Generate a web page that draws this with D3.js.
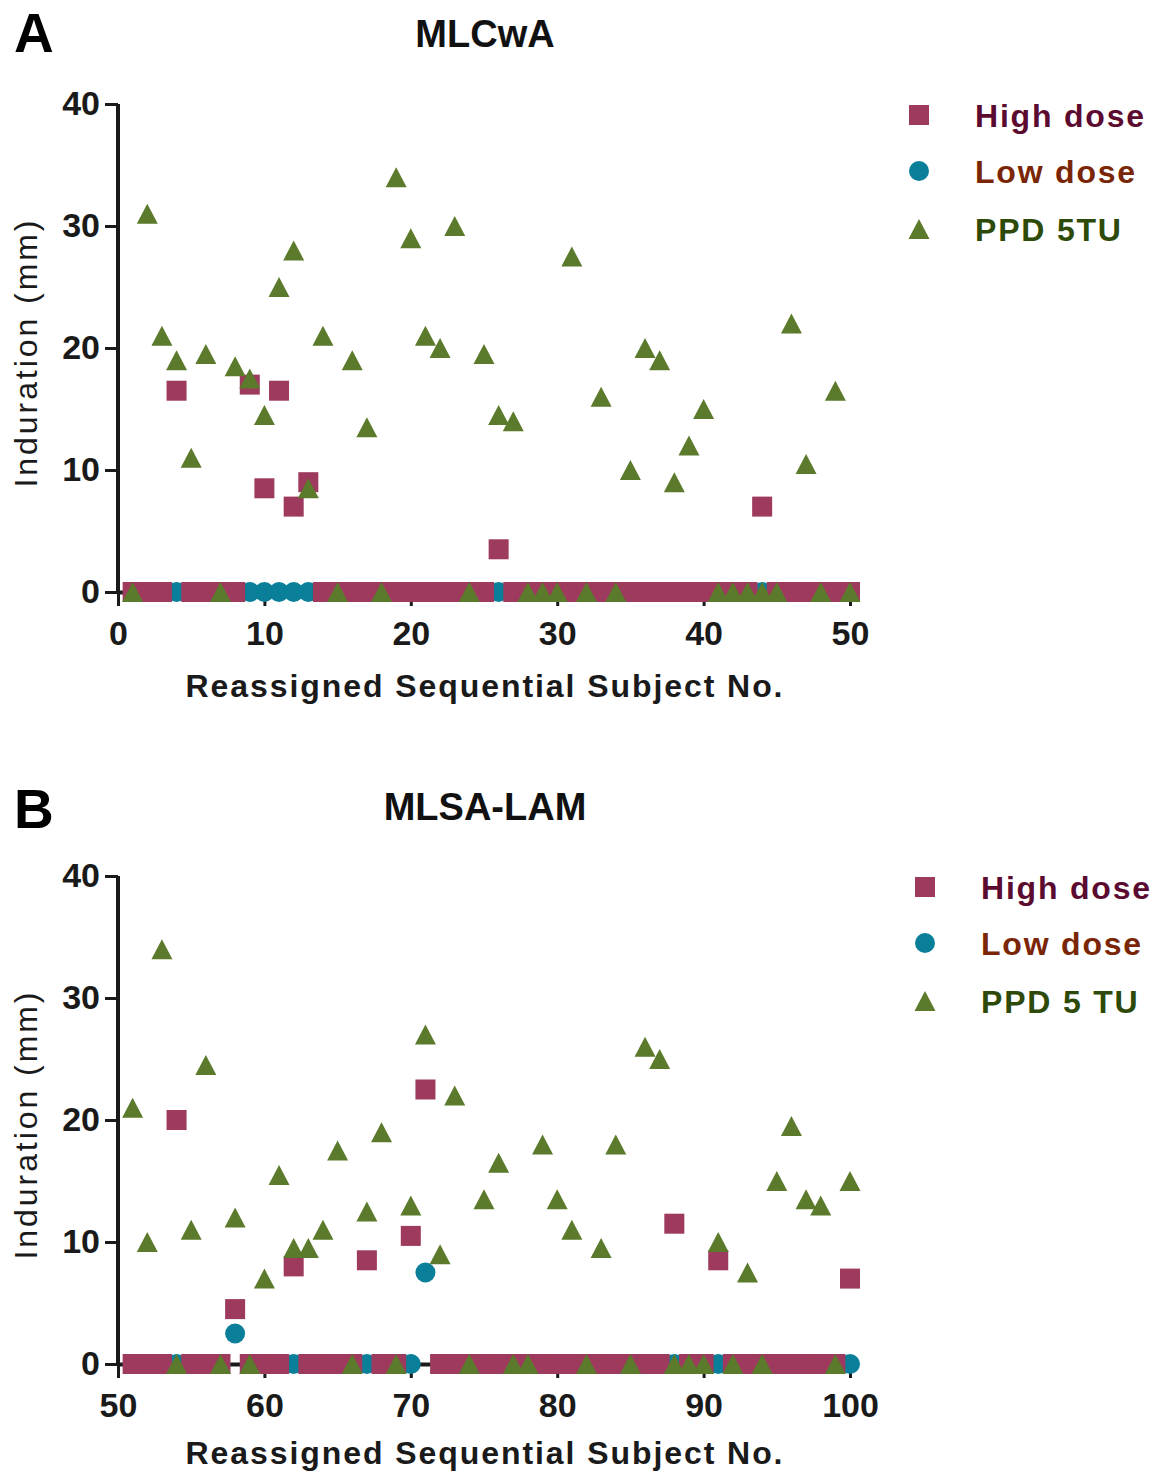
<!DOCTYPE html>
<html>
<head>
<meta charset="utf-8">
<script src="https://cdn.jsdelivr.net/npm/d3@7"></script>
<style>
  html, body { margin: 0; padding: 0; background: #fff; }
  svg { display: block; font-family: "Liberation Sans", Arial, sans-serif; }
</style>
</head>
<body>
<div id="chart"></div>
<script>
// subject numbers and induration (mm)
const subjectsA = [1,2,3,4,5,6,7,8,9,10,11,12,13,14,15,16,17,18,19,20,21,22,23,24,25,
  26,27,28,29,30,31,32,33,34,35,36,37,38,39,40,41,42,43,44,45,46,47,48,49,50];
const highA = [0,0,0,16.5,0,0,0,0,17,8.5,16.5,7,9,0,0,0,0,0,0,0,0,0,0,0,0,
  3.5,0,0,0,0,0,0,0,0,0,0,0,0,0,0,0,0,0,7,0,0,0,0,0,0];
const lowA = [0,0,0,0,0,0,0,0,0,0,0,0,0,0,0,0,0,0,0,0,0,0,0,0,0,
  0,0,0,0,0,0,0,0,0,0,0,0,0,0,0,0,0,0,0,0,0,0,0,0,0];
const ppdA = [0,31,21,19,11,19.5,0,18.5,17.5,14.5,25,28,8.5,21,0,19,13.5,0,34,29,21,20,30,0,19.5,
  14.5,14,0,0,0,27.5,0,16,0,10,20,19,9,12,15,0,0,0,0,0,22,10.5,0,16.5,0];

const subjectsB = [51,52,53,54,55,56,57,58,59,60,61,62,63,64,65,66,67,68,69,70,71,72,73,74,75,
  76,77,78,79,80,81,82,83,84,85,86,87,88,89,90,91,92,93,94,95,96,97,98,99,100];
const highB = [0,0,0,20,0,0,0,4.5,0,0,0,8,0,0,0,0,8.5,0,0,10.5,22.5,0,0,0,0,
  0,0,0,0,0,0,0,0,0,0,0,0,11.5,0,0,8.5,0,0,0,0,0,0,0,0,7];
const lowB = [0,0,0,0,0,0,0,2.5,0,0,0,0,0,0,0,0,0,0,0,0,7.5,0,0,0,0,
  0,0,0,0,0,0,0,0,0,0,0,0,0,0,0,0,0,0,0,0,0,0,0,0,0];
const ppdB = [21,10,34,0,11,24.5,0,12,0,7,15.5,9.5,9.5,11,17.5,0,12.5,19,0,13,27,9,22,0,13.5,
  16.5,0,0,18,13.5,11,0,9.5,18,0,26,25,0,0,0,10,0,7.5,0,15,19.5,13.5,13,0,15];

const yTicks = [0, 10, 20, 30, 40];
const xTicksA = [0, 10, 20, 30, 40, 50];
const xTicksB = [50, 60, 70, 80, 90, 100];
const seriesNames = ["High dose", "Low dose"];

const width = 1155;
const height = 1473;
const plotLeft = 118;
const plotRight = 850;
const plotH = 488;

const colHigh = "#9e3a5d";
const colLow = "#0a7f99";
const colPpd = "#5b7a2b";
const ink = "#1a1a1a";

const svg = d3.create("svg")
  .attr("width", width)
  .attr("height", height)
  .attr("viewBox", [0, 0, width, height]);

const triPath = "M0,-10L10.5,10L-10.5,10Z";

function panel(opt) {
  const g = svg.append("g").attr("transform", `translate(0,${opt.top})`);

  const x = d3.scaleLinear().domain(opt.xDomain).range([plotLeft, plotRight]);
  const y = d3.scaleLinear().domain([0, 40]).range([plotH, 0]);

  // axes
  const yAxis = g.append("g")
    .attr("transform", `translate(${plotLeft},0)`)
    .call(d3.axisLeft(y).tickValues(yTicks).tickSize(13).tickSizeOuter(0).tickPadding(5));
  const xAxis = g.append("g")
    .attr("transform", `translate(0,${plotH})`)
    .call(d3.axisBottom(x).tickValues(opt.xTicks).tickSize(14).tickSizeOuter(0).tickPadding(15));

  [yAxis, xAxis].forEach(ax => {
    ax.select(".domain").attr("stroke", ink).attr("stroke-width", 4);
    ax.selectAll(".tick line").attr("stroke", ink).attr("stroke-width", 3);
    ax.selectAll(".tick text")
      .attr("fill", ink)
      .attr("font-size", 34)
      .attr("font-weight", "bold")
      .attr("font-family", "Liberation Sans, Arial, sans-serif");
  });
  yAxis.select(".domain").attr("d", `M0,0V${plotH + 2}`);

  const rows = opt.subjects.map((s, i) => ({ s, high: opt.high[i], low: opt.low[i], ppd: opt.ppd[i] }));

  g.append("g").selectAll("circle")
    .data(rows)
    .join("circle")
    .attr("cx", d => x(d.s))
    .attr("cy", d => y(d.low))
    .attr("r", 10)
    .attr("fill", colLow);

  g.append("g").selectAll("rect")
    .data(rows)
    .join("rect")
    .attr("x", d => x(d.s) - 10)
    .attr("y", d => y(d.high) - 10)
    .attr("width", 20)
    .attr("height", 20)
    .attr("fill", colHigh);

  g.append("g").selectAll("path")
    .data(rows)
    .join("path")
    .attr("transform", d => `translate(${x(d.s)},${y(d.ppd)})`)
    .attr("d", triPath)
    .attr("fill", colPpd);

  // titles
  g.append("text")
    .attr("x", 14).attr("y", opt.letterY)
    .attr("font-size", 55).attr("font-weight", "bold").attr("fill", "#000")
    .text(opt.letter);
  g.append("text")
    .attr("x", 485).attr("y", opt.titleY)
    .attr("text-anchor", "middle")
    .attr("font-size", 38).attr("font-weight", "bold").attr("fill", "#111")
    .text(opt.title);

  // axis labels
  g.append("text")
    .attr("x", 484).attr("y", plotH + opt.xLabelDy)
    .attr("text-anchor", "middle")
    .attr("font-size", 32).attr("font-weight", "bold").attr("fill", ink)
    .attr("textLength", 597).attr("lengthAdjust", "spacing")
    .text("Reassigned Sequential Subject No.");
  g.append("text")
    .attr("transform", `translate(37,${plotH / 2 + 6}) rotate(-90)`)
    .attr("text-anchor", "middle")
    .attr("font-size", 32).attr("fill", ink)
    .attr("textLength", 267).attr("lengthAdjust", "spacing")
    .text("Induration (mm)");

  // legend
  const labels = seriesNames.concat([opt.ppdLabel]);
  const textCols = ["#5c0b30", "#7a2606", "#2d4a08"];
  const lg = g.append("g").attr("transform", `translate(${opt.legendX},11)`);
  labels.forEach((lab, i) => {
    const row = lg.append("g").attr("transform", `translate(0,${i === 2 ? 114 : i * 56})`);
    if (i === 0) row.append("rect").attr("x", -10).attr("y", -10).attr("width", 20).attr("height", 20).attr("fill", colHigh);
    if (i === 1) row.append("circle").attr("r", 10).attr("fill", colLow);
    if (i === 2) row.append("path").attr("d", triPath).attr("fill", colPpd);
    row.append("text")
      .attr("x", 56).attr("y", 12)
      .attr("font-size", 32).attr("font-weight", "bold")
      .attr("letter-spacing", 1.8)
      .attr("fill", textCols[i])
      .text(lab);
  });
}

panel({
  top: 104, subjects: subjectsA, high: highA, low: lowA, ppd: ppdA,
  xDomain: [0, 50], xTicks: xTicksA, letter: "A", title: "MLCwA",
  letterY: -52, titleY: -57, legendX: 919, ppdLabel: "PPD 5TU", xLabelDy: 105
});
panel({
  top: 876, subjects: subjectsB, high: highB, low: lowB, ppd: ppdB,
  xDomain: [50, 100], xTicks: xTicksB, letter: "B", title: "MLSA-LAM",
  letterY: -48, titleY: -56, legendX: 925, ppdLabel: "PPD 5 TU", xLabelDy: 100
});

document.getElementById("chart").appendChild(svg.node());
</script>
</body>
</html>
